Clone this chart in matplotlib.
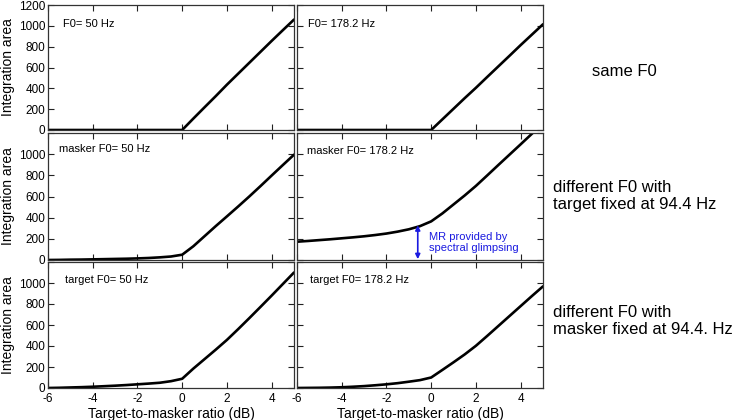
import matplotlib
matplotlib.use("Agg")
import matplotlib.pyplot as plt

plt.rcParams['font.family'] = ['Liberation Sans', 'DejaVu Sans']

# ---- data ----
tmr = [-6, -5.5, -5, -4.5, -4, -3.5, -3, -2.5, -2, -1.5, -1, -0.5,
       0, 0.5, 1, 1.5, 2, 2.5, 3, 3.5, 4, 4.5, 5]

same_f0_50 = [0, 0, 0, 0, 0, 0, 0, 0, 0, 0, 0, 0,
              0, 110, 218, 325, 435, 540, 645, 750, 855, 958, 1060]
same_f0_178 = [0, 0, 0, 0, 0, 0, 0, 0, 0, 0, 0, 0,
               0, 102, 204, 306, 405, 508, 610, 712, 815, 915, 1015]
masker_f0_50 = [0, 1, 3, 4, 6, 8, 10, 12, 15, 19, 25, 33,
                50, 130, 225, 320, 412, 505, 600, 698, 798, 897, 995]
masker_f0_178 = [173, 180, 188, 196, 205, 214, 224, 236, 250, 268, 290, 320,
                 365, 440, 525, 610, 700, 798, 897, 995, 1093, 1192, 1290]
target_f0_50 = [0, 2, 5, 8, 12, 17, 22, 28, 35, 42, 50, 65,
                88, 185, 275, 365, 458, 560, 665, 772, 880, 990, 1100]
target_f0_178 = [0, 1, 2, 4, 7, 12, 18, 26, 35, 46, 60, 75,
                 100, 172, 245, 320, 402, 495, 590, 685, 780, 875, 968]

panel_labels = [["F0= 50 Hz", "F0= 178.2 Hz"],
                ["masker F0= 50 Hz", "masker F0= 178.2 Hz"],
                ["target F0= 50 Hz", "target F0= 178.2 Hz"]]
series = [[same_f0_50, same_f0_178],
          [masker_f0_50, masker_f0_178],
          [target_f0_50, target_f0_178]]
row_titles = ["same F0",
              "different F0 with\ntarget fixed at 94.4 Hz",
              "different F0 with\nmasker fixed at 94.4. Hz"]

xticks = [-6, -4, -2, 0, 2, 4]
yticks = [0, 200, 400, 600, 800, 1000, 1200]

W, H = 739, 420
fig = plt.figure(figsize=(W / 100, H / 100), dpi=100)

col_px = [(48, 294), (297, 543)]
row_px = [(5, 130), (133, 260), (262, 388)]
label_pos = [[(0.062, 0.85), (0.045, 0.85)],
             [(0.045, 0.875), (0.04, 0.86)],
             [(0.069, 0.857), (0.053, 0.857)]]

axes = []
for r in range(3):
    for c in range(2):
        x0, x1 = col_px[c]
        y0, y1 = row_px[r]
        ax = fig.add_axes([x0 / W, 1 - y1 / H, (x1 - x0) / W, (y1 - y0) / H])
        ax.plot(tmr, series[r][c], color='black', lw=1.9, solid_capstyle='round')
        ax.set_xlim(-6, 5)
        ax.set_ylim(0, 1200)
        ax.set_xticks(xticks)
        ax.set_yticks(yticks)
        ax.tick_params(direction='in', top=True, right=True, length=4,
                       width=0.8, labelsize=8.5, pad=2, color='#222222')
        ax.tick_params(axis='x', pad=3.5)
        for s in ax.spines.values():
            s.set_linewidth(0.9)
            s.set_color('#333333')
        if r == 2:
            ax.set_xticklabels([str(t) for t in xticks])
            ax.set_xlabel("Target-to-masker ratio (dB)", fontsize=10, labelpad=1.5)
        else:
            ax.set_xticklabels([])
        if c == 0:
            labs = [str(t) for t in yticks]
            if r > 0:
                labs[-1] = ''
            ax.set_yticklabels(labs)
            ax.set_ylabel("Integration area", fontsize=10, labelpad=3)
        else:
            ax.set_yticklabels([])
        lx, ly = label_pos[r][c]
        ax.text(lx, ly, panel_labels[r][c], transform=ax.transAxes,
                fontsize=8, va='center', ha='left')
        axes.append(ax)

# annotation in the middle-right panel
ax = axes[3]
ax.annotate('', xy=(-0.6, 8), xytext=(-0.6, 328),
            arrowprops=dict(arrowstyle='<|-|>', color='#1a1ae0', lw=1.2,
                            mutation_scale=7, shrinkA=0, shrinkB=0))
ax.text(-0.1, 165, "MR provided by\nspectral glimpsing", color='#1a1ae0',
        fontsize=8, va='center', ha='left', linespacing=1.05)

# row descriptions on the right
fig.text(592 / W, 1 - 72 / H, row_titles[0], fontsize=12, va='center', ha='left')
fig.text(553 / W, 1 - 196 / H, row_titles[1], fontsize=12, va='center', ha='left',
         linespacing=1.1)
fig.text(553 / W, 1 - 321 / H, row_titles[2], fontsize=12, va='center', ha='left',
         linespacing=1.1)

fig.savefig("out.png", dpi=100)
